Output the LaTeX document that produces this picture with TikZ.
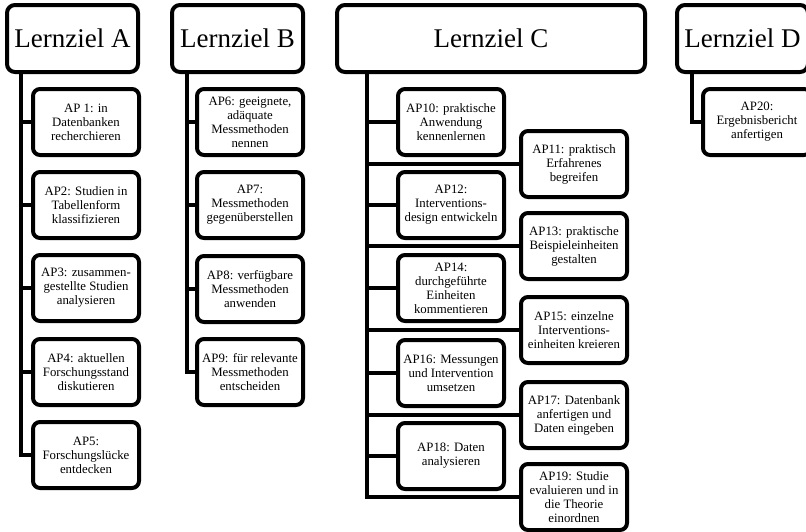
\documentclass[tikz,border=0pt]{standalone}
\usepackage{fontspec}
\setmainfont{Liberation Serif}
\begin{document}
\begin{tikzpicture}[x=1pt,y=-1pt,
  box/.style={draw=black, line width=4pt, rounded corners=7pt, fill=white,
    minimum width=106pt, minimum height=66pt, inner sep=0pt, align=center,
    font=\fontsize{12.8}{14}\selectfont},
  head/.style={draw=black, line width=4pt, rounded corners=8pt, fill=white,
    minimum height=67pt, inner sep=0pt, font=\fontsize{27}{30}\selectfont},
  conn/.style={line width=4pt, line cap=rect}]
\useasboundingbox (0,0) rectangle (806,531);
\clip (0,0) rectangle (806,531);

% trunk coordinates
\coordinate (tA) at (21,72);
\coordinate (tB) at (187,72);
\coordinate (tC) at (367,72);
\coordinate (tD) at (692,72);

\node[box] (a1) at (86,122) {AP 1: in\\Datenbanken\\recherchieren};
\node[box] (a2) at (86,205) {AP2: Studien in\\Tabellenform\\klassifizieren};
\node[box] (a3) at (86,288) {AP3: zusammen-\\gestellte Studien\\analysieren};
\node[box] (a4) at (86,372) {AP4: aktuellen\\Forschungsstand\\diskutieren};
\node[box] (a5) at (86,455) {AP5:\\Forschungslücke\\entdecken};

\node[box] (b6) at (250,122) {AP6: geeignete,\\adäquate\\Messmethoden\\nennen};
\node[box] (b7) at (250,205) {AP7:\\Messmethoden\\gegenüberstellen};
\node[box] (b8) at (250,289) {AP8: verfügbare\\Messmethoden\\anwenden};
\node[box] (b9) at (250,372) {AP9: für relevante\\Messmethoden\\entscheiden};

\node[box] (c11) at (574,164) {AP11: praktisch\\Erfahrenes\\begreifen};
\node[box] (c13) at (574,246) {AP13: praktische\\Beispieleinheiten\\gestalten};
\node[box] (c15) at (574,330) {AP15: einzelne\\Interventions-\\einheiten kreieren};
\node[box] (c17) at (574,415) {AP17: Datenbank\\anfertigen und\\Daten eingeben};
\node[box] (c19) at (574,497) {AP19: Studie\\evaluieren und in\\die Theorie\\einordnen};

\node[box, minimum width=108pt] (d20) at (757,122) {AP20:\\Ergebnisbericht\\anfertigen};

% connectors
\draw[conn] (tA) |- (a5.west);
\foreach \n in {a1,a2,a3,a4} \draw[conn] (tA|-\n.west) -- (\n.west);
\draw[conn] (tB) |- (b9.west);
\foreach \n in {b6,b7,b8} \draw[conn] (tB|-\n.west) -- (\n.west);
\draw[conn] (tC) |- (c19.west);
\foreach \n in {c11,c13,c15,c17} \draw[conn] (tC|-\n.west) -- (\n.west);
\draw[conn] (tD) |- (d20.west);

% left column of C drawn after the long branches
\node[box] (c10) at (451,122) {AP10: praktische\\Anwendung\\kennenlernen};
\node[box] (c12) at (451,205) {AP12:\\Interventions-\\design entwickeln};
\node[box] (c14) at (451,288) {AP14:\\durchgeführte\\Einheiten\\kommentieren};
\node[box] (c16) at (451,373) {AP16: Messungen\\und Intervention\\umsetzen};
\node[box] (c18) at (451,456) {AP18: Daten\\analysieren};
\foreach \n in {c10,c12,c14,c16,c18} \draw[conn] (tC|-\n.west) -- (\n.west);

% headers
\node[head, minimum width=131pt] (hA) at (72.5,38.5) {Lernziel A};
\node[head, minimum width=131pt] (hB) at (237.5,38.5) {Lernziel B};
\node[head, minimum width=308pt] (hC) at (491,38.5) {Lernziel C};
\node[head, minimum width=131pt] (hD) at (742.5,38.5) {Lernziel D};
\end{tikzpicture}
\end{document}
